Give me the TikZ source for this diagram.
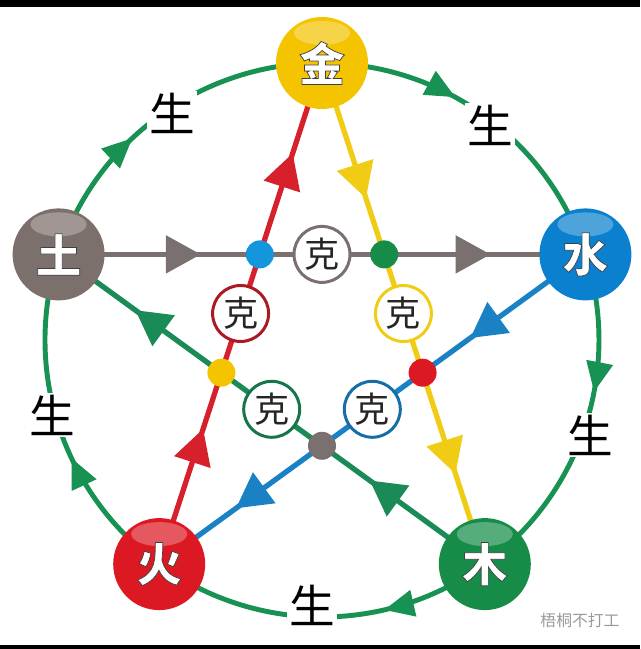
\documentclass[tikz,border=0pt]{standalone}
\usepackage{fontspec}
\usetikzlibrary{arrows.meta,decorations.markings,backgrounds}
\newfontfamily\cjk{Noto Sans CJK SC}
\newfontfamily\cjkouter[FakeBold=1.6]{Noto Sans CJK SC}
\newcommand\elemtext[1]{{\cjkouter\bfseries\special{pdf:literal direct 0.25 0.25 0.25 RG}#1}}

\definecolor{jincol}{RGB}{244,196,0}
\definecolor{shuicol}{RGB}{10,128,206}
\definecolor{mucol}{RGB}{22,140,72}
\definecolor{huocol}{RGB}{220,24,34}
\definecolor{tucol}{RGB}{124,112,108}
\definecolor{shenggreen}{RGB}{24,146,82}
\definecolor{kegray}{RGB}{122,112,112}
\definecolor{kered}{RGB}{214,32,44}
\definecolor{keyellow}{RGB}{240,204,20}
\definecolor{keblue}{RGB}{26,130,196}
\definecolor{kegreen}{RGB}{26,138,86}
\definecolor{dotblue}{RGB}{20,150,220}

\begin{document}
\begin{tikzpicture}[x=0.2mm, y=0.2mm,
    element/.style={circle, fill=#1, minimum size=1.84cm, inner sep=0pt, font=\fontsize{26}{26}\selectfont, text=white,
      path picture={\fill[white, opacity=0.28] ([yshift=-0.32cm]path picture bounding box.north) ellipse[x radius=0.56cm, y radius=0.24cm];}},
    kering/.style={circle, draw=#1, line width=1.7pt, fill=white, minimum size=1.12cm, inner sep=0pt, font=\cjk\fontsize{20}{20}\selectfont, text=black!85},
    kedot/.style={circle, fill=#1, minimum size=0.56cm, inner sep=0pt},
    shenglabel/.style={fill=white, inner sep=1pt, font=\cjk\fontsize{26}{26}\selectfont},
    shengarc/.style={shenggreen, line width=2.8pt, postaction={decorate},
      decoration={markings, mark=at position #1 with {\arrow{Triangle[length=0.6cm, width=0.52cm]}}}},
    shengarc/.default=0.4,
    keline/.style={#1, line width=3pt, postaction={decorate}, decoration={markings,
      mark=at position 0.27 with {\arrow{Triangle[length=0.7cm, width=0.74cm]}},
      mark=at position 0.82 with {\arrow{Triangle[length=0.7cm, width=0.74cm]}}}}
]
\useasboundingbox (0,0) rectangle (640,649);
\fill[black] (0,642) rectangle (640,649);
\fill[black] (0,0) rectangle (640,4);

% the five elements
\node[element=jincol] (jin) at (322,586) {\elemtext{金}};
\node[element=shuicol] (shui) at (585.4,394.6) {\elemtext{水}};
\node[element=mucol] (mu) at (484.8,84.9) {\elemtext{木}};
\node[element=huocol] (huo) at (159.2,84.9) {\elemtext{火}};
\node[element=tucol] (tu) at (58.6,394.6) {\elemtext{土}};

% crossing points
\node[kedot=dotblue] (dot-tu-huo) at (259.8,394.6) {};
\node[kedot=mucol] (dot-tu-jin) at (384.2,394.6) {};
\node[kedot=jincol] (dot-huo-mu) at (221.4,276.3) {};
\node[kedot=huocol] (dot-jin-shui) at (422.6,276.3) {};
\node[kedot=kegray] (dot-mu-shui) at (322,203.2) {};

% ke rings
\node[kering=kegray] (ke-tu) at (322,394.6) {克};
\node[kering=kered!80!black] (ke-huo) at (240.6,335.5) {克};
\node[kering=keyellow] (ke-jin) at (403.4,335.5) {克};
\node[kering=kegreen!85!black] (ke-mu) at (271.7,239.7) {克};
\node[kering=keblue!85!black] (ke-shui) at (372.3,239.7) {克};

% sheng labels
\node[shenglabel] (sheng-tu-jin) at (172,536) {生};
\node[shenglabel] (sheng-jin-shui) at (490,524) {生};
\node[shenglabel] (sheng-shui-mu) at (590,214) {生};
\node[shenglabel] (sheng-mu-huo) at (312,44) {生};
\node[shenglabel] (sheng-huo-tu) at (52,234) {生};

\node[font=\cjk\fontsize{9}{9}\selectfont, text=black!40] (watermark) at (580,29) {梧桐不打工};

\begin{scope}[on background layer]
\draw[shengarc] (jin.center) arc[start angle=90, end angle=18, radius=5.54cm];
\draw[shengarc] (shui.center) arc[start angle=18, end angle=-54, radius=5.54cm];
\draw[shengarc=0.32] (mu.center) arc[start angle=-54, end angle=-126, radius=5.54cm];
\draw[shengarc] (huo.center) arc[start angle=234, end angle=162, radius=5.54cm];
\draw[shengarc] (tu.center) arc[start angle=162, end angle=90, radius=5.54cm];

\draw[keline=kegray] (tu.center) -- (shui.center);
\draw[keline=kered] (huo.center) -- (jin.center);
\draw[keline=keyellow] (jin.center) -- (mu.center);
\draw[keline=keblue] (shui.center) -- (huo.center);
\draw[keline=kegreen] (mu.center) -- (tu.center);
\end{scope}
\end{tikzpicture}
\end{document}
